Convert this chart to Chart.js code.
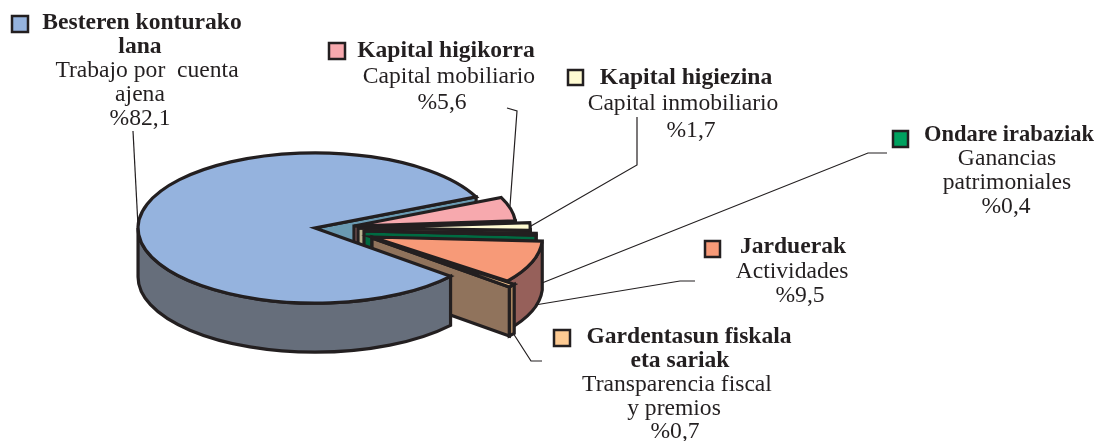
<!DOCTYPE html>
<html><head><meta charset="utf-8">
<style>html,body{margin:0;padding:0;background:#fff}canvas{display:block}</style>
<script src="https://cdn.jsdelivr.net/npm/chart.js@4"></script>
</head><body><canvas id="c" width="1095" height="441"></canvas>
<script>
const categories = ["Besteren konturako lana","Kapital higikorra","Kapital higiezina","Ondare irabaziak","Jarduerak","Gardentasun fiskala eta sariak"];
const values = [82.1,5.6,1.7,0.4,9.5,0.7];
const topColors = ["#95b3de","#f7a9ae","#fffbd2","#00a15f","#f79a78","#fdca92"];
const rimColors = ["#666e7b","#a0706f","#b8b38f","#006b42","#96605a","#a9855f"];
const endColors = ["#6a9ab2","#a0706f","#b8b38f","#006b42","#96605a","#90735c"];
// explode offsets (screen px) and radius factor for each slice
const shiftX = [3,42,46,52,60,60];
const shiftY = [0,-2,0,3,9,10];
const radiusFactor = [1.017,0.93,0.99,0.99,0.98,1.03];
const SQUASH = 0.425, DEPTH = 49, INK = "#231f20";
const SERIF = '"Liberation Serif","Times New Roman",serif';
// label blocks: swatch index, swatch box, lines [text, centre x, baseline, bold, max width]
const labelBlocks = [
 {i:0,box:[12,16,16,16],lines:[["Besteren konturako",142,29,1],["lana",140,53,1],["Trabajo por  cuenta",147,77,0],["ajena",140,101,0],["%82,1",140,125,0]]},
 {i:1,box:[329,43,16,16],lines:[["Kapital higikorra",446,57,1],["Capital mobiliario",449,83,0],["%5,6",442,109,0]]},
 {i:2,box:[568,70,15,15],lines:[["Kapital higiezina",686,84,1],["Capital inmobiliario",683,110,0],["%1,7",691,137,0]]},
 {i:3,box:[893,131,15,16],lines:[["Ondare irabaziak",1009,141,1,170],["Ganancias",1007,165,0],["patrimoniales",1007,189,0],["%0,4",1006,213,0]]},
 {i:4,box:[705,241,15,16],lines:[["Jarduerak",793,253,1],["Actividades",792,278,0],["%9,5",800,302,0]]},
 {i:5,box:[554,330,16,16],lines:[["Gardentasun fiskala",689,343,1],["eta sariak",680,367,1],["Transparencia fiscal",677,391,0],["y premios",674,415,0],["%0,7",675,438,0]]}
];
const leaders = [
 [[133,131],[138,226]],
 [[507,108],[517,111],[510,206]],
 [[637,117],[637,165],[531,226]],
 [[887,153],[868,153],[542,283]],
 [[695,281],[680,281],[535,305]],
 [[542,361],[531,361],[513,333]]
];
const CX = 312, CY = 228;

const pie3d = {
 id:'pie3d',
 afterDatasetsUpdate(chart){
  chart.getDatasetMeta(0).data.forEach((a,i)=>{
   a.x += shiftX[i];
   a.y += shiftY[i]/SQUASH;
   a.outerRadius *= radiusFactor[i];
  });
 },
 beforeDatasetsDraw(chart){
  const ctx = chart.ctx, arcs = chart.getDatasetMeta(0).data;
  const pt = (a,ang,dz=0)=>[a.x+a.outerRadius*Math.cos(ang), sy(a.y)+a.outerRadius*SQUASH*Math.sin(ang)+dz];
  const sy = y=>CY+(y-CY)*SQUASH;
  ctx.save();
  ctx.lineWidth=3.2; ctx.lineJoin='miter'; ctx.strokeStyle=INK;
  const rim=(a,i)=>{
   for(const base of [-2*Math.PI,0,2*Math.PI]){
    const s=Math.max(a.startAngle,base), e=Math.min(a.endAngle,base+Math.PI);
    if(e<=s) continue;
    ctx.beginPath();
    ctx.ellipse(a.x,sy(a.y),a.outerRadius,a.outerRadius*SQUASH,0,s,e);
    ctx.ellipse(a.x,sy(a.y)+DEPTH,a.outerRadius,a.outerRadius*SQUASH,0,e,s,true);
    ctx.closePath(); ctx.fillStyle=rimColors[i]; ctx.fill(); ctx.stroke();
   }
  };
  const endWall=(a,i)=>{
   const p=pt(a,a.endAngle), ay=sy(a.y);
   ctx.beginPath(); ctx.moveTo(a.x,ay); ctx.lineTo(p[0],p[1]); ctx.lineTo(p[0],p[1]+DEPTH); ctx.lineTo(a.x,ay+DEPTH); ctx.closePath();
   ctx.fillStyle=endColors[i]; ctx.fill(); ctx.stroke();
  };
  endWall(arcs[0],0);
  for(let i=1;i<arcs.length;i++){ rim(arcs[i],i); endWall(arcs[i],i); }
  rim(arcs[0],0);
  ctx.restore();
  ctx.save();
  ctx.translate(0,CY); ctx.scale(1,SQUASH); ctx.translate(0,-CY);
 },
 afterDatasetsDraw(chart){
  const ctx = chart.ctx, arcs = chart.getDatasetMeta(0).data;
  ctx.restore();
  const sy = y=>CY+(y-CY)*SQUASH;
  ctx.save();
  ctx.lineWidth=3.2; ctx.lineJoin='miter'; ctx.strokeStyle=INK;
  arcs.forEach(a=>{
   ctx.beginPath(); ctx.moveTo(a.x,sy(a.y));
   ctx.ellipse(a.x,sy(a.y),a.outerRadius,a.outerRadius*SQUASH,0,a.startAngle,a.endAngle);
   ctx.closePath(); ctx.stroke();
  });
  ctx.restore();
 },
 afterDraw(chart){
  const ctx = chart.ctx;
  ctx.save();
  ctx.strokeStyle=INK; ctx.lineWidth=1.2;
  leaders.forEach(l=>{ctx.beginPath();l.forEach((p,j)=>j?ctx.lineTo(p[0],p[1]):ctx.moveTo(p[0],p[1]));ctx.stroke();});
  ctx.textAlign='center'; ctx.textBaseline='alphabetic'; ctx.fillStyle=INK;
  labelBlocks.forEach(b=>{
   ctx.fillStyle=topColors[b.i]; ctx.fillRect(b.box[0],b.box[1],b.box[2],b.box[3]);
   ctx.lineWidth=2.5; ctx.strokeRect(b.box[0],b.box[1],b.box[2],b.box[3]);
   ctx.fillStyle=INK;
   b.lines.forEach(l=>{ctx.font=(l[3]?'bold ':'')+'23.6px '+SERIF; l[4]?ctx.fillText(l[0],l[1],l[2],l[4]):ctx.fillText(l[0],l[1],l[2]);});
  });
  ctx.restore();
 }
};

new Chart(document.getElementById('c'),{
 type:'pie',
 data:{labels:categories,datasets:[{data:values,backgroundColor:topColors,borderWidth:0,clip:false}]},
 plugins:[pie3d],
 options:{
  responsive:false,animation:false,events:[],
  rotation:130,radius:174,
  layout:{padding:{left:0,right:1095-2*CX,top:2*CY-441,bottom:0}},
  plugins:{legend:{display:false},tooltip:{enabled:false},title:{display:false}}
 }
});
</script></body></html>
